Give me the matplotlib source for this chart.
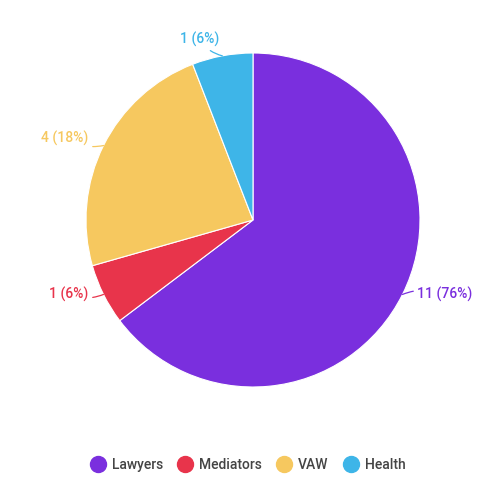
import numpy as np
import matplotlib
matplotlib.use("Agg")
import matplotlib.pyplot as plt
from matplotlib.lines import Line2D

plt.rcParams["font.family"] = ["Roboto", "DejaVu Sans"]

categories = ["Lawyers", "Mediators", "VAW", "Health"]
counts = [11, 1, 4, 1]
label_pcts = [76, 6, 18, 6]  # as printed on the original chart
colors = ["#7A2FDE", "#E8344B", "#F6C85F", "#3EB5E8"]

W, H, DPI = 495, 497, 100
R_PX = 167
CX, CY = 253, 220  # pie centre in pixels from top-left

fig = plt.figure(figsize=(W / DPI, H / DPI), dpi=DPI)
ax = fig.add_axes([0, 0, 1, 1])

wedges, _ = ax.pie(counts, colors=colors, startangle=90, counterclock=False,
                   radius=1.0, wedgeprops=dict(edgecolor="white", linewidth=0.8))

# pie() resets the limits, so set them afterwards
ax.set_aspect("auto")
ax.set_xlim(-CX / R_PX, (W - CX) / R_PX)
ax.set_ylim(-(H - CY) / R_PX, CY / R_PX)
ax.axis("off")

for w, n, p, c in zip(wedges, counts, label_pcts, colors):
    mid = np.deg2rad((w.theta1 + w.theta2) / 2)
    x, y = np.cos(mid), np.sin(mid)
    tx = 1.1 * x
    ty = 1.1 * y if y > 0 else y
    ha = "left" if x > 0 else "right"
    ax.annotate(f"{n} ({p}%)", xy=(x, y), xytext=(tx, ty), ha=ha, va="center",
                fontsize=10, color=c, fontweight="medium",
                arrowprops=dict(arrowstyle="-", color=c, lw=0.9,
                                connectionstyle="arc3,rad=0.2",
                                shrinkA=1, shrinkB=0))

handles = [Line2D([], [], marker="o", linestyle="none", markersize=11.5,
                  markerfacecolor=c, markeredgecolor=c) for c in colors]
fig.legend(handles, categories, loc="center", bbox_to_anchor=(0.5, 1 - 465 / H),
           ncol=4, frameon=False, labelcolor="#444444",
           handletextpad=0.4, columnspacing=1.0, handlelength=1.2,
           prop={"weight": "medium", "size": 10})

fig.savefig("out.png", dpi=DPI, facecolor="white")
